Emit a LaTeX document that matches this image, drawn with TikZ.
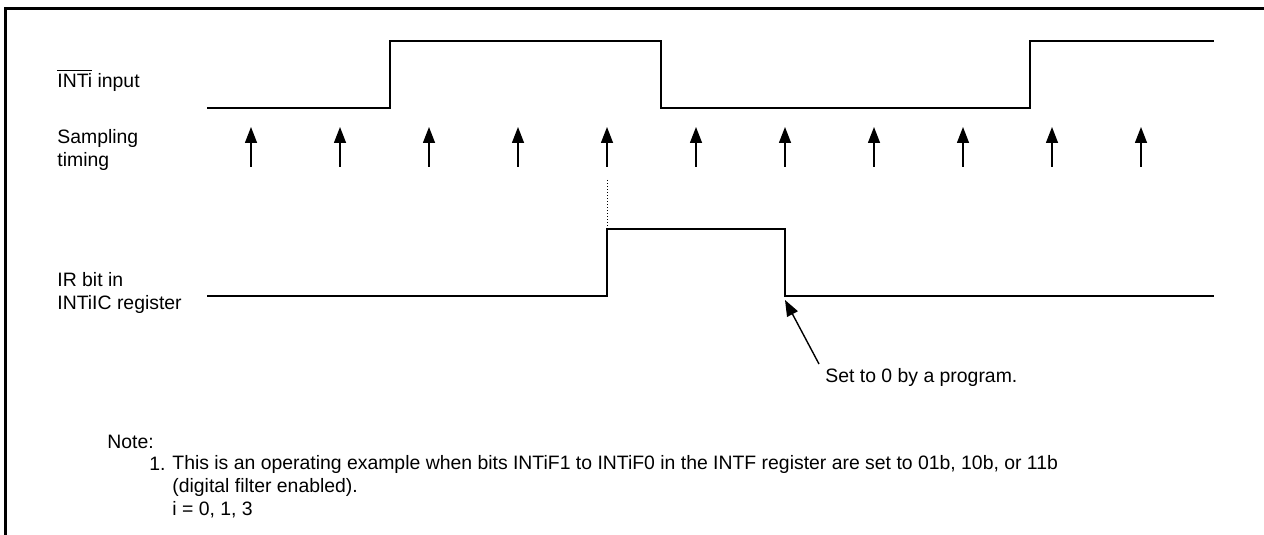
\documentclass[tikz,border=0pt]{standalone}
\usepackage{fontspec}
\setmainfont{Liberation Sans}
\usetikzlibrary{arrows.meta}

\tikzset{
  wave/.style={line width=0.75pt, line join=miter},
  sample/.style={line width=0.7pt, -{Triangle[width=6pt, length=8pt]}},
  lbl/.style={anchor=west, align=left, inner sep=0pt, font=\fontsize{9.7}{11.5}\selectfont},
}

\begin{document}
\begin{tikzpicture}[x=0.5pt, y=-0.5pt]
      \useasboundingbox (0,0) rectangle (1264,535);

      % Frame
      \draw[line width=1.6pt] (5.5,535) -- (5.5,8.5) -- (1264,8.5);

      % Signal labels
      \node (LIN) [lbl] at (57,80) {\(\overline{\hbox{INTi}}\) input};
      \node (LST) [lbl] at (57,150) {Sampling\\timing};
      \node (LIR) [lbl] at (57,293) {IR bit in\\INTiIC register};

      % INTi input
      \draw[wave] (207,108) -- (390,108) -- (390,41) -- (661,41) -- (661,108)
                  -- (1030,108) -- (1030,41) -- (1214,41);

      % Sampling timing
      \foreach \x [count=\xi] in {251, 340, 429, 518, 607, 696, 785, 874, 963, 1052, 1141} {
          \coordinate (S\xi) at (\x,167);
          \coordinate (T\xi) at (\x,127);
          \draw[sample] (S\xi) -- (T\xi);
        }

      % IR bit
      \draw[wave] (207,296) -- (607,296) -- (607,229) -- (785,229) -- (785,296) -- (1214,296);
      \coordinate (IRup) at (607,229);
      \coordinate (IRclr) at (785,300);
      \draw[line width=0.5pt, densely dotted] (607,180) -- (IRup);

      % Cleared by program
      \node (PRG) [lbl] at (825,377) {Set to 0 by a program.};
      \coordinate (PRGt) at (819,364);
      \draw[sample] (PRGt) -- (IRclr);

      % Note
      \node (NOTE) [lbl] at (107,442) {Note:};
      \node (N1) [lbl] at (149,464) {1.};
      \node (N1T) [lbl, anchor=north west] at (172,455.5) {This is an operating example when bits INTiF1 to INTiF0 in the INTF register are set to 01b, 10b, or 11b\\(digital filter enabled).\\i = 0, 1, 3};
    \end{tikzpicture}
\end{document}
